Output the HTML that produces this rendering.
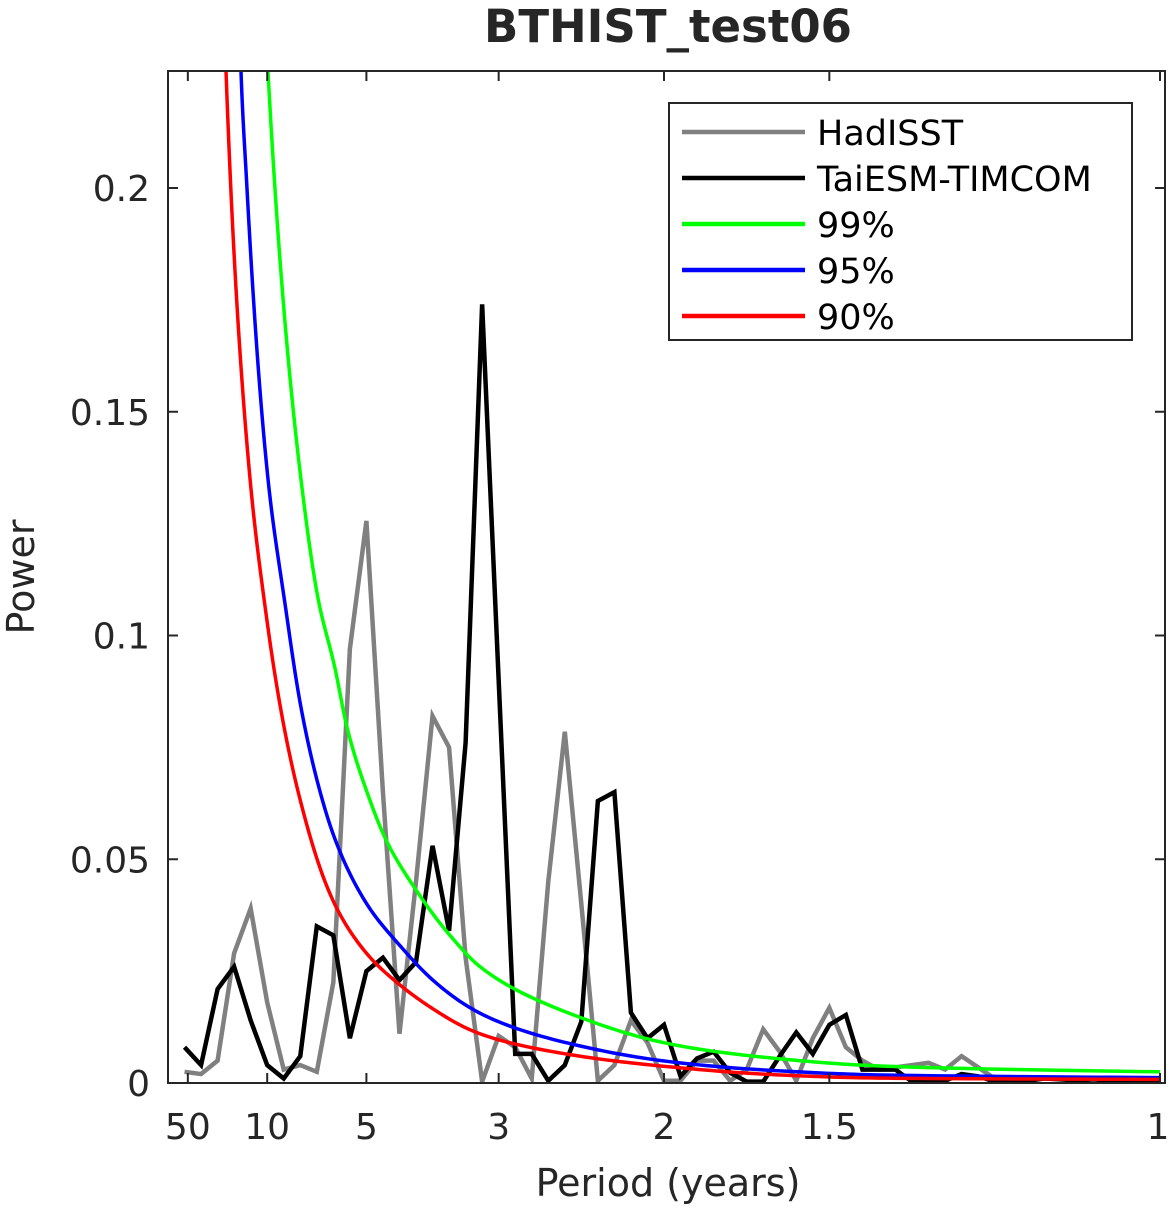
<!DOCTYPE html>
<html><head><meta charset="utf-8"><style>
html,body{margin:0;padding:0;background:#fff;}
svg{display:block;font-family:"DejaVu Sans","Liberation Sans",sans-serif;}
</style></head><body>
<svg id="chart" width="1171" height="1209" viewBox="0 0 1171 1209" xmlns="http://www.w3.org/2000/svg">
<text x="668" y="42" text-anchor="middle" font-size="45" font-weight="bold" fill="#262626">BTHIST_test06</text>
<defs><clipPath id="plotclip"><rect x="168" y="71" width="997" height="1012"/></clipPath></defs>
<g id="series" clip-path="url(#plotclip)"></g>
<rect x="168" y="71" width="997" height="1012" fill="none" stroke="#262626" stroke-width="2"/>
<g id="ticks"></g>
<text transform="translate(34,577) rotate(-90)" text-anchor="middle" font-size="38" fill="#262626">Power</text>
<text x="668" y="1196" text-anchor="middle" font-size="38" fill="#262626">Period (years)</text>
<g>
<rect x="669" y="103" width="463" height="237" fill="#fff" stroke="#262626" stroke-width="2"/>
<line x1="682" y1="132" x2="805" y2="132" stroke="#808080" stroke-width="4.5"/>
<text x="817" y="145" font-size="35" fill="#000">HadISST</text>
<line x1="682" y1="178" x2="805" y2="178" stroke="#000" stroke-width="4.5"/>
<text x="817" y="191" font-size="35" fill="#000">TaiESM-TIMCOM</text>
<line x1="682" y1="224" x2="805" y2="224" stroke="#00ff00" stroke-width="4.5"/>
<text x="817" y="237" font-size="35" fill="#000">99%</text>
<line x1="682" y1="270" x2="805" y2="270" stroke="#0000ff" stroke-width="4.5"/>
<text x="817" y="283" font-size="35" fill="#000">95%</text>
<line x1="682" y1="316" x2="805" y2="316" stroke="#ff0000" stroke-width="4.5"/>
<text x="817" y="329" font-size="35" fill="#000">90%</text>
</g>
</svg>
<script>
const yTicks = [0, 0.05, 0.1, 0.15, 0.2];
const yTickLabels = ["0", "0.05", "0.1", "0.15", "0.2"];
const xTickPeriods = [50, 10, 5, 3, 2, 1.5, 1];
const xTickLabels = ["50", "10", "5", "3", "2", "1.5", "1"];
const hadisst = [0.0025,0.002,0.005,0.029,0.039,0.018,0.003,0.004,0.0025,0.0225,0.097,0.1256,0.065,0.011,0.045,0.082,0.075,0.028,0.0003,0.0105,0.008,0.001,0.045,0.0785,0.04,0.0005,0.004,0.014,0.009,0.0005,0.0005,0.005,0.005,0.0005,0.003,0.012,0.007,0.0005,0.01,0.0168,0.008,0.005,0.003,0.0035,0.004,0.0045,0.003,0.006,0.0035,0.001,0.0008,0.001,0.0012,0.001,0.0008,0.001,0.0008,0.0006,0.0005,0.0003];
const taiesm = [0.008,0.004,0.021,0.026,0.014,0.004,0.001,0.006,0.035,0.033,0.010,0.025,0.028,0.023,0.027,0.053,0.034,0.076,0.174,0.09,0.0065,0.0065,0.0005,0.004,0.0137,0.063,0.065,0.0157,0.010,0.013,0.0015,0.0055,0.007,0.0023,0.0003,0.0003,0.006,0.0113,0.0065,0.013,0.0152,0.003,0.003,0.003,0.0003,0.0002,0.0005,0.002,0.0015,0.0003,0.0002,0.0005,0.001,0.0008,0.0006,0.0008,0.0005,0.0005,0.0004,0.0003];
const nFreq = 60;
const red90F = [0.05,0.0585,0.0827,0.1008,0.134,0.168,0.2016,0.235,0.269,0.3145,0.415,0.516,0.617,0.718,1.0];
const red90V = [0.30,0.226,0.135,0.1017,0.0626,0.040,0.0286,0.0217,0.0163,0.011,0.006,0.0034,0.0018,0.0011,0.0008];
const blue95F = [0.065,0.0736,0.0796,0.1008,0.118,0.134,0.151,0.168,0.2016,0.235,0.269,0.3145,0.415,0.516,0.617,0.718,1.0];
const blue95V = [0.30,0.226,0.2,0.135,0.107,0.084,0.067,0.0547,0.0396,0.0304,0.0226,0.0156,0.0083,0.0045,0.0027,0.0018,0.0012];
const green99F = [0.09,0.1008,0.134,0.151,0.168,0.181,0.2016,0.219,0.252,0.285,0.3145,0.415,0.516,0.617,0.718,1.0];
const green99V = [0.28,0.226,0.135,0.1086,0.093,0.079,0.0644,0.0547,0.0425,0.0328,0.026,0.0147,0.0083,0.0054,0.0038,0.0025];

const X0 = 168, XW = 992, Y0 = 1083, YS = 4475;
function xScale(f){ return X0 + f*XW; }
function yScale(v){ return Y0 - v*YS; }
const NS = "http://www.w3.org/2000/svg";
const series = document.getElementById('series');
const ticks = document.getElementById('ticks');
const svg = document.getElementById('chart');

// smooth rendering in log-log space (monotone-friendly), sampled densely
function smoothPoints(fs, vs){
  const lf = fs.map(Math.log), lv = vs.map(Math.log);
  const out = [];
  for(let i=0;i<lf.length-1;i++){
    const i0=Math.max(0,i-1), i3=Math.min(lf.length-1,i+2);
    const m1 = (lv[i+1]-lv[i0])/(lf[i+1]-lf[i0]);
    const m2 = (lv[i3]-lv[i])/(lf[i3]-lf[i]);
    const h = lf[i+1]-lf[i];
    for(let s=0;s<20;s++){
      const t=s/20, t2=t*t, t3=t2*t;
      const y = (2*t3-3*t2+1)*lv[i] + (t3-2*t2+t)*h*m1 + (-2*t3+3*t2)*lv[i+1] + (t3-t2)*h*m2;
      const x = lf[i]+t*h;
      out.push([xScale(Math.exp(x)), yScale(Math.exp(y))]);
    }
  }
  out.push([xScale(fs[fs.length-1]), yScale(vs[vs.length-1])]);
  return out;
}
function addCurve(fs, vs, color, name){
  const pts = smoothPoints(fs, vs).map(p=>p[0].toFixed(2)+","+p[1].toFixed(2)).join(" ");
  const p = document.createElementNS(NS,'polyline');
  p.setAttribute('points', pts);
  p.setAttribute('fill','none');
  p.setAttribute('stroke',color);
  p.setAttribute('stroke-width','3.5');
  
  
  series.appendChild(p);
}
function addLine(vals, color, name){
  const pts = vals.map((v,i)=>xScale((i+1)/nFreq).toFixed(2)+","+yScale(v).toFixed(2)).join(" ");
  const p = document.createElementNS(NS,'polyline');
  p.setAttribute('points', pts);
  p.setAttribute('fill','none');
  p.setAttribute('stroke',color);
  p.setAttribute('stroke-width','4.5');
  p.setAttribute('stroke-linejoin','miter');
  
  
  series.appendChild(p);
}
addLine(hadisst, '#808080', 'hadisst-line');
addLine(taiesm, '#000000', 'taiesm-line');
addCurve(green99F, green99V, '#00ff00', 'threshold-99-curve');
addCurve(blue95F, blue95V, '#0000ff', 'threshold-95-curve');
addCurve(red90F, red90V, '#ff0000', 'threshold-90-curve');

yTicks.forEach((v,i)=>{
  const y = yScale(v);
  [[168,178],[1155,1165]].forEach(([a,b])=>{
    const l = document.createElementNS(NS,'line');
    l.setAttribute('x1',a); l.setAttribute('x2',b); l.setAttribute('y1',y); l.setAttribute('y2',y);
    l.setAttribute('stroke','#262626'); l.setAttribute('stroke-width','2');
    
    
    ticks.appendChild(l);
  });
  const t = document.createElementNS(NS,'text');
  t.setAttribute('x', 150); t.setAttribute('y', y+13);
  t.setAttribute('text-anchor','end'); t.setAttribute('font-size','36'); t.setAttribute('fill','#262626');
  t.textContent = yTickLabels[i];
  
  
  svg.appendChild(t);
});
xTickPeriods.forEach((p,i)=>{
  const x = xScale(1/p);
  [[71,81],[1073,1083]].forEach(([a,b])=>{
    const l = document.createElementNS(NS,'line');
    l.setAttribute('x1',x); l.setAttribute('x2',x); l.setAttribute('y1',a); l.setAttribute('y2',b);
    l.setAttribute('stroke','#262626'); l.setAttribute('stroke-width','2');
    
    
    ticks.appendChild(l);
  });
  const t = document.createElementNS(NS,'text');
  t.setAttribute('x', i===xTickPeriods.length-1 ? x-2 : x); t.setAttribute('y', 1139);
  t.setAttribute('text-anchor','middle'); t.setAttribute('font-size','36'); t.setAttribute('fill','#262626');
  t.textContent = xTickLabels[i];
  
  
  svg.appendChild(t);
});
</script>
</body></html>
